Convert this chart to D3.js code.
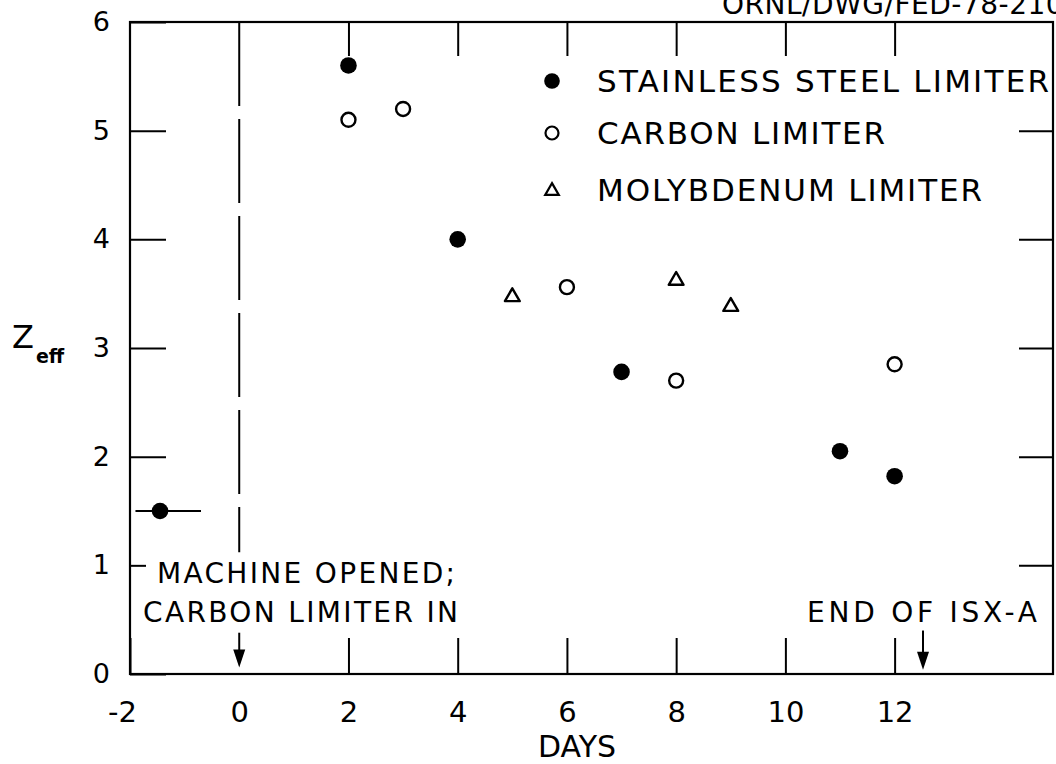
<!DOCTYPE html>
<html>
<head>
<meta charset="utf-8">
<script src="https://cdnjs.cloudflare.com/ajax/libs/d3/7.8.5/d3.min.js"></script>
<style>
  html, body { margin: 0; padding: 0; background: #fff; }
  svg { display: block; }
  text { font-family: "DejaVu Sans", sans-serif; fill: #000; }
</style>
</head>
<body>
<div id="plot"></div>
<script>
// ---------- Data ---------- //
var stainlessDays = [-1.45, 2, 4, 7, 11, 12];
var stainlessZeff = [1.5, 5.6, 4.0, 2.78, 2.05, 1.82];
var preRunSpan = [-1.9, -0.7];   // horizontal bar on the first point

var carbonDays = [2, 3, 6, 8, 12];
var carbonZeff = [5.1, 5.2, 3.56, 2.7, 2.85];

var molyDays = [5, 8, 9];
var molyZeff = [3.48, 3.63, 3.39];

var xTicks = [-2, 0, 2, 4, 6, 8, 10, 12];
var yTicks = [0, 1, 2, 3, 4, 5, 6];

var legendLabels = ["STAINLESS STEEL LIMITER", "CARBON LIMITER", "MOLYBDENUM LIMITER"];

var machineOpenedDay = 0;
var endIsxDay = 12.52;

var drawPlot = function() {

  var width = 1056;
  var height = 764;

  var x = d3.scaleLinear().domain([-2, 14.9]).range([130, 1053]);
  var y = d3.scaleLinear().domain([0, 6]).range([674, 22]);

  var svg = d3.select("#plot")
              .append("svg")
              .attr("width", width)
              .attr("height", height);

  // drawing number in the corner, cut by the top edge
  svg.append("text")
     .attr("x", 722)
     .attr("y", 14)
     .attr("font-size", 28)
     .attr("textLength", 360)
     .attr("lengthAdjust", "spacing")
     .text("ORNL/DWG/FED-78-2106");

  // ---------- Frame ---------- //
  svg.append("rect")
     .attr("x", x(-2))
     .attr("y", y(6))
     .attr("width", x(14.9) - x(-2))
     .attr("height", y(0) - y(6))
     .attr("fill", "none")
     .attr("stroke", "#000")
     .attr("stroke-width", 2.2);

  // ---------- Axes (ticks point inward) ---------- //
  var fmt = d => String(d);

  var left = svg.append("g")
     .attr("transform", `translate(${x(-2)},0)`)
     .call(d3.axisLeft(y).tickValues(yTicks).tickFormat(fmt).tickSizeInner(-36).tickSizeOuter(0).tickPadding(20));

  // the tick at 1 is cut short by the annotation
  left.selectAll(".tick").filter(d => d == 1).select("line").attr("x2", 16);

  var bottom = svg.append("g")
     .attr("transform", `translate(0,${y(0)})`)
     .call(d3.axisBottom(x).tickValues(xTicks).tickFormat(fmt).tickSizeInner(-36).tickSizeOuter(0).tickPadding(27));

  bottom.selectAll(".tick").filter(d => d == 0).select("line").remove();
  bottom.selectAll(".tick").filter(d => d < 0).select("text").attr("dx", -8);

  svg.append("g")
     .attr("transform", `translate(0,${y(6)})`)
     .call(d3.axisTop(x).tickValues(xTicks.filter(d => d > 0)).tickSizeInner(-34).tickSizeOuter(0).tickFormat(""));

  svg.append("g")
     .attr("transform", `translate(${x(14.9)},0)`)
     .call(d3.axisRight(y).tickValues(yTicks.filter(d => d > 0 && d < 6)).tickSizeInner(-34).tickSizeOuter(0).tickFormat(""));

  svg.selectAll(".domain").remove();
  svg.selectAll(".tick line").attr("stroke", "#000").attr("stroke-width", 2);
  left.selectAll(".tick text").attr("font-size", 27).attr("font-family", "DejaVu Sans");
  bottom.selectAll(".tick text").attr("font-size", 29).attr("font-family", "DejaVu Sans");

  // axis titles
  var zlabel = svg.append("text")
     .attr("x", 12)
     .attr("y", 348)
     .attr("font-size", 32)
     .text("Z");
  zlabel.append("tspan")
     .attr("dx", 2)
     .attr("dy", 15)
     .attr("font-size", 19)
     .attr("font-weight", "bold")
     .text("eff");

  svg.append("text")
     .attr("x", 577)
     .attr("y", 757)
     .attr("text-anchor", "middle")
     .attr("font-size", 30)
     .text("DAYS");

  // ---------- Events ---------- //
  svg.append("line")
     .attr("x1", x(machineOpenedDay))
     .attr("x2", x(machineOpenedDay))
     .attr("y1", y(6))
     .attr("y2", y(1.12))
     .attr("stroke", "#000")
     .attr("stroke-width", 2)
     .attr("stroke-dasharray", "84,13");

  var arrow = function(day, top, tip) {
    var cx = x(day);
    svg.append("line")
       .attr("x1", cx).attr("x2", cx)
       .attr("y1", y(top)).attr("y2", y(tip) - 12)
       .attr("stroke", "#000")
       .attr("stroke-width", 2);
    svg.append("path")
       .attr("d", `M${cx - 6},${y(tip) - 18}L${cx + 6},${y(tip) - 18}L${cx},${y(tip)}Z`)
       .attr("fill", "#000");
  };
  arrow(machineOpenedDay, 0.38, 0.06);
  arrow(endIsxDay, 0.4, 0.04);

  var note = svg.append("g").attr("font-size", 28);
  note.append("text").attr("x", 157).attr("y", 583)
      .attr("textLength", 298).attr("lengthAdjust", "spacing").text("MACHINE OPENED;");
  note.append("text").attr("x", 143).attr("y", 622)
      .attr("textLength", 315).attr("lengthAdjust", "spacing").text("CARBON LIMITER IN");
  note.append("text").attr("x", 807).attr("y", 622)
      .attr("textLength", 230).attr("lengthAdjust", "spacing").text("END OF ISX-A");

  // ---------- Points ---------- //
  svg.append("line")
     .attr("x1", x(preRunSpan[0]))
     .attr("x2", x(preRunSpan[1]))
     .attr("y1", y(stainlessZeff[0]))
     .attr("y2", y(stainlessZeff[0]))
     .attr("stroke", "#000")
     .attr("stroke-width", 2.2);

  svg.append("g")
     .selectAll("circle")
     .data(d3.zip(stainlessDays, stainlessZeff))
     .join("circle")
     .attr("cx", d => x(d[0]))
     .attr("cy", d => y(d[1]))
     .attr("r", 8.3)
     .attr("fill", "#000");

  svg.append("g")
     .selectAll("circle")
     .data(d3.zip(carbonDays, carbonZeff))
     .join("circle")
     .attr("cx", d => x(d[0]))
     .attr("cy", d => y(d[1]))
     .attr("r", 7)
     .attr("fill", "none")
     .attr("stroke", "#000")
     .attr("stroke-width", 2.4);

  var tri = d3.symbol(d3.symbolTriangle, 95);
  svg.append("g")
     .selectAll("path")
     .data(d3.zip(molyDays, molyZeff))
     .join("path")
     .attr("transform", d => `translate(${x(d[0])},${y(d[1]) + 1})`)
     .attr("d", tri)
     .attr("fill", "none")
     .attr("stroke", "#000")
     .attr("stroke-width", 2.4)
     .attr("stroke-linejoin", "round");

  // ---------- Legend ---------- //
  var rowY = [81, 133, 190];
  var legendWidths = [452, 288, 385];
  var legend = svg.append("g");

  legend.append("circle").attr("cx", 552).attr("cy", rowY[0]).attr("r", 7.8).attr("fill", "#000");
  legend.append("circle").attr("cx", 552).attr("cy", rowY[1]).attr("r", 6.5)
        .attr("fill", "none").attr("stroke", "#000").attr("stroke-width", 2.2);
  legend.append("path").attr("transform", `translate(552,${rowY[2] + 1})`)
        .attr("d", d3.symbol(d3.symbolTriangle, 80))
        .attr("fill", "none").attr("stroke", "#000").attr("stroke-width", 2.2);

  legend.selectAll("text")
        .data(legendLabels)
        .join("text")
        .attr("x", 597)
        .attr("y", (d, i) => rowY[i] + 11)
        .attr("font-size", 31)
        .attr("textLength", (d, i) => legendWidths[i])
        .attr("lengthAdjust", "spacing")
        .text(d => d);
}

drawPlot();
</script>
</body>
</html>
